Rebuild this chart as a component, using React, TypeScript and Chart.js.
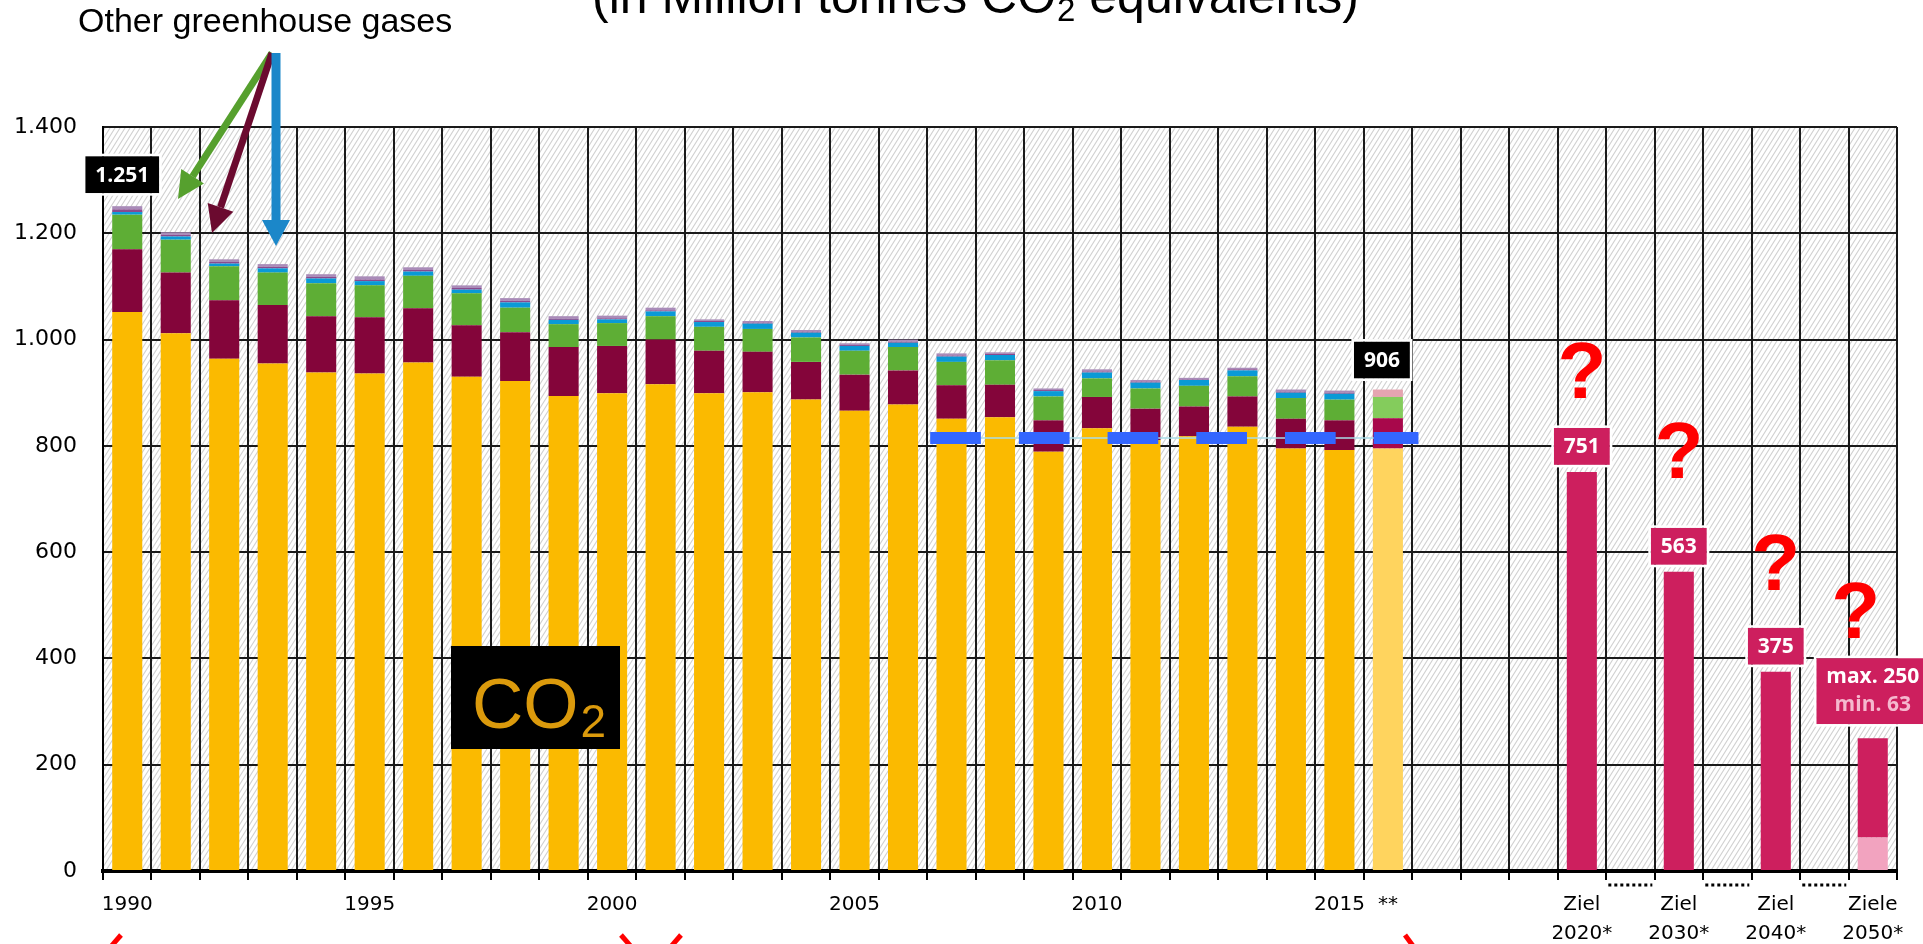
import React, { useEffect, useRef } from 'react';
import { Chart, registerables } from 'chart.js';

Chart.register(...registerables);

// ---------- DATA ----------
const xTickLabels: (string | string[])[] = [
  '1990', '', '', '', '', '1995', '', '', '', '', '2000', '', '', '', '', '2005', '', '', '', '',
  '2010', '', '', '', '', '2015', '**', '', '', '',
  ['Ziel', '2020*'], '', ['Ziel', '2030*'], '', ['Ziel', '2040*'], '', ['Ziele', '2050*'],
];

const yTickLabels = ['0', '200', '400', '600', '800', '1.000', '1.200', '1.400'];

// 1990 ... 2015, 2016 (estimate, **)
const co2 = [1052, 1012, 964, 955, 938, 936, 957, 930, 922, 894, 899, 916, 899, 901, 887, 866, 878, 851, 854, 789, 833, 811, 818, 836, 795, 792, 795];
const ch4 = [118, 114, 110, 110, 106, 106, 102, 97, 92, 92, 89, 84, 80, 76, 71, 68, 64, 63, 61, 59, 59, 59, 56, 57, 56, 56, 57];
const n2o = [65, 62, 64, 61, 62, 60, 61, 60, 46, 43, 43, 44, 45, 43, 46, 45, 44, 44, 46, 45, 35, 38, 39, 38, 39, 39, 40];
const hfc = [5, 6, 5, 8, 9, 8, 8, 7, 10, 8, 7, 9, 9, 10, 9, 9, 8, 10, 10, 10, 11, 11, 11, 11, 10, 11];
const pfc = [5, 3, 3, 3, 3, 3, 3, 3, 3, 2, 2, 2, 2, 2, 2, 2, 2, 2, 2, 2, 2, 2, 1, 2, 2, 2];
const sf6 = [6, 5, 5, 5, 5, 6, 5, 5, 5, 5, 5, 5, 3, 3, 3, 3, 4, 4, 3, 3, 4, 3, 3, 3, 4, 4];
const otherEstimate2016 = 14; // other gases, 2016 estimate
const estimateIndex = 26;

const targetIndices = [30, 32, 34, 36];
const targetValues = [751, 563, 375, 250];
const target2050Min = 63;

const markerValue = 815;
const markerRange = [16.56, 26.63]; // in category-index units

// question marks: [category position, value at baseline]
const questionMarks = [
  [30, 890],
  [32, 739],
  [34, 529],
  [35.65, 438],
];

// ---------- helpers ----------
const N = xTickLabels.length;
const fill = (arr: (number | null)[]) => {
  const out: (number | null)[] = new Array(N).fill(null);
  arr.forEach((v, i) => (out[i] = v));
  return out;
};
const fmtDe = (v: number) => String(v).replace(/\B(?=(\d{3})+(?!\d))/g, '.');

const totals = co2.map((v, i) => v + ch4[i] + n2o[i] + (hfc[i] ?? 0) + (pfc[i] ?? 0) + (sf6[i] ?? 0) + (i === estimateIndex ? otherEstimate2016 : 0));

const otherEstArr = fill([]);
otherEstArr[estimateIndex] = otherEstimate2016;
const targetMinArr = fill([]);
targetMinArr[36] = target2050Min;
const targetArr = fill([]);
targetIndices.forEach((idx, k) => {
  targetArr[idx] = idx === 36 ? targetValues[k] - target2050Min : targetValues[k];
});

const C = {
  co2: '#FBBA00', co2Est: '#FFD45E',
  ch4: '#84053A', ch4Est: '#A8084B',
  n2o: '#5EAE35', n2oEst: '#84CC5C',
  hfc: '#0A9AD6', pfc: '#8A4A8E', sf6: '#A98BB8', otherEst: '#E5A4B0',
  target: '#CD1F5E', targetMin: '#F2A3BF',
};
const est = (normal: string, light: string) => (ctx: any) => (ctx.dataIndex === estimateIndex ? light : normal);

// ---------- plugin ----------
let hatchPattern: CanvasPattern | null = null;
function getHatch(ctx: CanvasRenderingContext2D) {
  if (hatchPattern) return hatchPattern;
  const t = document.createElement('canvas');
  t.width = 5; t.height = 8;
  const c = t.getContext('2d')!;
  c.fillStyle = '#ffffff';
  c.fillRect(0, 0, 5, 8);
  c.strokeStyle = '#d0d0d0';
  c.lineWidth = 1.1;
  for (const off of [-5, 0, 5]) {
    c.beginPath();
    c.moveTo(off - 5, 16);
    c.lineTo(off + 10, -8);
    c.stroke();
  }
  hatchPattern = ctx.createPattern(t, 'repeat');
  return hatchPattern;
}

function arrow(ctx: CanvasRenderingContext2D, x1: number, y1: number, x2: number, y2: number, color: string, w: number, hw: number, hl: number) {
  const ang = Math.atan2(y2 - y1, x2 - x1);
  const bx = x2 - Math.cos(ang) * hl;
  const by = y2 - Math.sin(ang) * hl;
  ctx.save();
  ctx.strokeStyle = color;
  ctx.fillStyle = color;
  ctx.lineWidth = w;
  ctx.lineCap = 'butt';
  ctx.beginPath();
  ctx.moveTo(x1, y1);
  ctx.lineTo(bx, by);
  ctx.stroke();
  const px = -Math.sin(ang) * hw / 2;
  const py = Math.cos(ang) * hw / 2;
  ctx.beginPath();
  ctx.moveTo(x2, y2);
  ctx.lineTo(bx + px, by + py);
  ctx.lineTo(bx - px, by - py);
  ctx.closePath();
  ctx.fill();
  ctx.restore();
}

const BOX_FONT = 'bold 21px "Open Sans", "DejaVu Sans", sans-serif';

function valueBox(ctx: CanvasRenderingContext2D, cx: number, bottom: number, lines: { text: string; color: string }[], bg: string) {
  ctx.save();
  ctx.font = BOX_FONT;
  const tw = Math.max(...lines.map((l) => ctx.measureText(l.text).width));
  const w = tw + 20;
  const lh = 28;
  const h = lines.length === 1 ? 37 : lines.length * lh + 10;
  const x0 = cx - w / 2;
  const y0 = bottom - h;
  ctx.fillStyle = bg;
  ctx.fillRect(x0, y0, w, h);
  ctx.strokeStyle = '#ffffff';
  ctx.lineWidth = 2.5;
  ctx.strokeRect(x0 - 1.25, y0 - 1.25, w + 2.5, h + 2.5);
  ctx.textAlign = 'center';
  ctx.textBaseline = 'middle';
  lines.forEach((l, i) => {
    ctx.fillStyle = l.color;
    const yy = lines.length === 1 ? y0 + h / 2 + 1 : y0 + 5 + lh * i + lh / 2;
    ctx.fillText(l.text, cx, yy);
  });
  ctx.restore();
}

const overlayPlugin = {
  id: 'overlay',
  beforeDraw(chart: any) {
    const { ctx, chartArea: a } = chart;
    ctx.save();
    ctx.fillStyle = getHatch(ctx);
    ctx.fillRect(a.left, a.top, a.right - a.left, a.bottom - a.top);
    ctx.restore();
  },
  afterDraw(chart: any) {
    const { ctx, chartArea: a } = chart;
    const xs = chart.scales.x;
    const ys = chart.scales.y;
    const p0 = xs.getPixelForValue(0);
    const step = xs.getPixelForValue(1) - p0;
    const px = (p: number) => p0 + p * step;

    // title (cut off at top)
    ctx.save();
    ctx.fillStyle = '#000';
    ctx.textAlign = 'left';
    ctx.textBaseline = 'alphabetic';
    const big = '50px "Liberation Sans", Arial, sans-serif';
    const small = '33px "Liberation Sans", Arial, sans-serif';
    let tx = 592;
    ctx.font = big;
    const t1 = '(in Million tonnes CO';
    ctx.fillText(t1, tx, 13);
    tx += ctx.measureText(t1).width + 1;
    ctx.font = small;
    ctx.fillText('2', tx, 21);
    tx += ctx.measureText('2').width;
    ctx.font = big;
    ctx.fillText(' equivalents)', tx, 13);

    ctx.font = '34px "Liberation Sans", Arial, sans-serif';
    ctx.fillText('Other greenhouse gases', 78, 32);
    ctx.restore();

    // arrows
    arrow(ctx, 272, 53, 178, 199, '#56A02E', 7, 27, 27);
    arrow(ctx, 272, 53, 212, 233, '#6B0A2F', 7, 27, 27);
    arrow(ctx, 276, 53, 276, 246, '#1B87C9', 9, 28, 26);

    // CO2 box
    ctx.save();
    ctx.fillStyle = '#000';
    ctx.fillRect(451, 646, 169, 103);
    ctx.fillStyle = '#DB9A0C';
    ctx.textBaseline = 'alphabetic';
    ctx.textAlign = 'left';
    ctx.font = '71px "Liberation Sans", Arial, sans-serif';
    ctx.fillText('CO', 472, 728);
    const cw = ctx.measureText('CO').width;
    ctx.font = '46px "Liberation Sans", Arial, sans-serif';
    ctx.fillText('2', 472 + cw + 2, 737);
    ctx.restore();

    // value boxes
    valueBox(ctx, px(0) - 5, ys.getPixelForValue(totals[0]) - 13, [{ text: fmtDe(totals[0]), color: '#fff' }], '#000');
    valueBox(ctx, px(estimateIndex) - 6, ys.getPixelForValue(totals[estimateIndex]) - 11, [{ text: fmtDe(totals[estimateIndex]), color: '#fff' }], '#000');
    targetIndices.forEach((idx, k) => {
      const cx = px(idx);
      if (idx === 36) {
        valueBox(ctx, cx, ys.getPixelForValue(targetValues[k]) - 14, [
          { text: 'max. ' + fmtDe(targetValues[k]), color: '#fff' },
          { text: 'min. ' + fmtDe(target2050Min), color: '#F5B8CE' },
        ], C.target);
      } else {
        valueBox(ctx, cx, ys.getPixelForValue(targetValues[k]) - 7, [{ text: fmtDe(targetValues[k]), color: '#fff' }], C.target);
      }
    });

    // question marks
    ctx.save();
    ctx.fillStyle = '#FF0000';
    ctx.font = 'bold 80px "Liberation Sans", Arial, sans-serif';
    ctx.textAlign = 'center';
    ctx.textBaseline = 'alphabetic';
    questionMarks.forEach(([p, v]) => {
      ctx.fillText('?', px(p), ys.getPixelForValue(v));
    });
    ctx.restore();

    // dotted separators under the axis between targets
    ctx.save();
    ctx.strokeStyle = '#000';
    ctx.lineWidth = 3;
    ctx.setLineDash([3, 3]);
    [31, 33, 35].forEach((i) => {
      const c = px(i);
      ctx.beginPath();
      ctx.moveTo(c - 22, a.bottom + 14);
      ctx.lineTo(c + 22, a.bottom + 14);
      ctx.stroke();
    });
    ctx.restore();

    // red bracket fragments at the bottom edge
    ctx.save();
    ctx.strokeStyle = '#FF0000';
    ctx.lineWidth = 5;
    const frags = [[121, 935, 108, 950], [621, 935, 634, 950], [681, 935, 668, 950], [1405, 935, 1416, 950]];
    frags.forEach(([a1, b1, a2, b2]) => {
      ctx.beginPath();
      ctx.moveTo(a1, b1);
      ctx.lineTo(a2, b2);
      ctx.stroke();
    });
    ctx.restore();
  },
};

// ---------- component ----------
export default function App() {
  const ref = useRef<HTMLCanvasElement>(null);

  useEffect(() => {
    document.body.style.margin = '0';
    document.body.style.overflow = 'hidden';
    const barCommon = { barPercentage: 0.62, categoryPercentage: 1.0, borderWidth: 0, grouped: false, xAxisID: 'x', yAxisID: 'y' };
    const chart = new Chart(ref.current!, {
      type: 'bar',
      data: {
        labels: xTickLabels as any,
        datasets: [
          { ...barCommon, label: 'CO2', data: fill(co2), backgroundColor: est(C.co2, C.co2Est) },
          { ...barCommon, label: 'CH4', data: fill(ch4), backgroundColor: est(C.ch4, C.ch4Est) },
          { ...barCommon, label: 'N2O', data: fill(n2o), backgroundColor: est(C.n2o, C.n2oEst) },
          { ...barCommon, label: 'HFC', data: fill(hfc), backgroundColor: C.hfc },
          { ...barCommon, label: 'PFC', data: fill(pfc), backgroundColor: C.pfc },
          { ...barCommon, label: 'SF6', data: fill(sf6), backgroundColor: C.sf6 },
          { ...barCommon, label: 'Other (estimate)', data: otherEstArr, backgroundColor: C.otherEst },
          { ...barCommon, label: 'Ziel min', data: targetMinArr, backgroundColor: C.targetMin },
          { ...barCommon, label: 'Ziel', data: targetArr, backgroundColor: C.target },
          {
            type: 'line', label: 'marker', xAxisID: 'x2', yAxisID: 'y', stack: 'm1', order: -2,
            data: [{ x: markerRange[0], y: markerValue }, { x: markerRange[1], y: markerValue }],
            borderColor: '#3366FF', borderWidth: 12, borderDash: [50.7, 38], borderCapStyle: 'butt',
            pointRadius: 0, fill: false,
          } as any,
          {
            type: 'line', label: 'marker thin', xAxisID: 'x2', yAxisID: 'y', stack: 'm2', order: -1,
            data: [{ x: markerRange[0], y: markerValue }, { x: markerRange[1], y: markerValue }],
            borderColor: '#A8DDE8', borderWidth: 1.5, pointRadius: 0, fill: false,
          } as any,
        ],
      },
      options: {
        responsive: false,
        animation: false,
        layout: { padding: { top: 127, right: 26, left: 0, bottom: 0 } },
        plugins: { legend: { display: false }, tooltip: { enabled: false }, title: { display: false } },
        scales: {
          x: {
            type: 'category',
            stacked: true,
            offset: true,
            grid: { offset: true, color: '#1a1a1a', lineWidth: 2, drawTicks: true, tickLength: 9, tickColor: '#000', tickWidth: 2 },
            border: { display: true, color: '#000', width: 4 },
            ticks: {
              autoSkip: false, maxRotation: 0, minRotation: 0, color: '#000', padding: 10,
              font: { family: '"DejaVu Sans", sans-serif', size: 20, lineHeight: 1.45 },
            },
            afterFit: (s: any) => { s.height = 73; },
          },
          x2: {
            type: 'linear', display: true, position: 'bottom', min: -0.5, max: 36.5, offset: false,
            ticks: { display: false },
            grid: { display: false, drawTicks: false },
            border: { display: false },
            afterFit: (s: any) => { s.height = 0; },
          },
          y: {
            stacked: true,
            min: 0,
            max: 1400,
            ticks: {
              stepSize: 200, color: '#000', padding: 26,
              font: { family: '"DejaVu Sans", sans-serif', size: 22 },
              callback: (v: any) => yTickLabels[Math.round(Number(v) / 200)],
            },
            grid: { color: '#1a1a1a', lineWidth: 2, drawTicks: false },
            border: { display: true, color: '#000', width: 2 },
            afterFit: (s: any) => { s.width = 103; },
          },
        } as any,
      },
      plugins: [overlayPlugin],
    } as any);
    return () => chart.destroy();
  }, []);

  return (
    <canvas
      ref={ref}
      width={1923}
      height={944}
      style={{ display: 'block', width: 1923, height: 944 }}
    />
  );
}
